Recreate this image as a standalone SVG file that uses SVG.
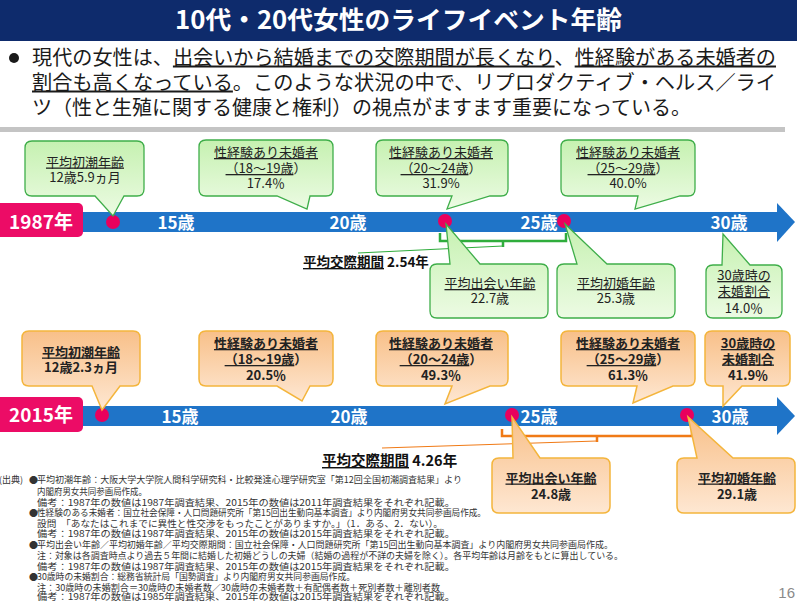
<svg xmlns="http://www.w3.org/2000/svg" width="797" height="602" viewBox="0 0 797 602">
<defs>
<linearGradient id="gg" x1="0" y1="0" x2="0" y2="1"><stop offset="0" stop-color="#c6f1b1"/><stop offset="1" stop-color="#ecfbe3"/></linearGradient>
<linearGradient id="og" x1="0" y1="0" x2="0" y2="1"><stop offset="0" stop-color="#f8c089"/><stop offset="1" stop-color="#fee7d2"/></linearGradient>
<style>
text{font-family:"Noto Sans CJK JP","Noto Sans",sans-serif;}
.gc{fill:url(#gg);stroke:#3fae4a;stroke-width:1.3;}
.oc{fill:url(#og);stroke:#f4b53c;stroke-width:1.5;}
.ct{font-size:13px;fill:#222;text-anchor:middle;}
.b{font-weight:bold;}
.u{text-decoration:underline;}
.bar{fill:#1f74c8;}
.dot{fill:#e9005d;}
.yl{fill:#ec0c66;}
.yt{font-size:19px;font-weight:bold;fill:#fff;text-anchor:middle;}
.age{font-size:17px;font-weight:bold;fill:#fff;text-anchor:middle;}
.fn{font-size:9px;fill:#333;}
.gl{fill:none;stroke:#2fad3c;}
.ol{fill:none;stroke:#f07a16;}
</style>
</defs>
<rect width="797" height="602" fill="#fff"/>

<g id="title">
<rect x="0" y="0" width="797" height="41" fill="#0e2b6c"/>
<text x="175" y="29" font-size="25" font-weight="bold" fill="#fff" textLength="447" lengthAdjust="spacingAndGlyphs">10代・20代女性のライフイベント年齢</text>
</g>

<g id="summary" fill="#1a1a1a">
<circle cx="14" cy="58" r="5" fill="#1a1a1a"/>
<text x="32" y="64.5" font-size="20" textLength="744" lengthAdjust="spacingAndGlyphs">現代の女性は、<tspan class="u">出会いから結婚までの交際期間が長くなり</tspan>、<tspan class="u">性経験がある未婚者の</tspan></text>
<text x="32" y="89.5" font-size="20" textLength="744" lengthAdjust="spacingAndGlyphs"><tspan class="u">割合も高くなっている</tspan>。このような状況の中で、リプロダクティブ・ヘルス／ライ</text>
<text x="32" y="114.5" font-size="20">ツ（性と生殖に関する健康と権利）の視点がますます重要になっている。</text>
<rect x="0" y="127" width="785" height="5" fill="#c4c4c4"/>
</g>

<g id="timeline1987">
<rect class="bar" x="80" y="212" width="698" height="20"/>
<polygon class="bar" points="777,203 795,222 777,242"/>
<rect class="yl" x="-4" y="203" width="87" height="34" rx="5"/>
<text class="yt" x="41" y="229">1987年</text>
<text class="age" x="176" y="228.5">15歳</text>
<text class="age" x="348" y="228.5">20歳</text>
<text class="age" x="539" y="228.5">25歳</text>
<text class="age" x="729" y="228.5">30歳</text>
<circle class="dot" cx="113" cy="222" r="7"/>
<circle class="dot" cx="445" cy="221" r="7"/>
<circle class="dot" cx="564" cy="221" r="7"/>
</g>

<g id="timeline2015">
<rect class="bar" x="80" y="406" width="698" height="20"/>
<polygon class="bar" points="777,397 795,416 777,435"/>
<rect class="yl" x="-4" y="397" width="87" height="35" rx="5"/>
<text class="yt" x="41" y="422">2015年</text>
<text class="age" x="180" y="422.5">15歳</text>
<text class="age" x="349" y="422.5">20歳</text>
<text class="age" x="539" y="422.5">25歳</text>
<text class="age" x="730" y="422.5">30歳</text>
<circle class="dot" cx="102" cy="415" r="7"/>
<circle class="dot" cx="512" cy="415" r="7"/>
<circle class="dot" cx="687" cy="415" r="7"/>
</g>

<g id="connectors">
<path class="gl" stroke-width="2.5" d="M440,233 V241 H566 V233 M503,241 V247"/>
<path class="gl" stroke-width="1" d="M503,246 L358,253"/>
<path class="ol" stroke-width="2.5" d="M502,429 V436 H692 V429 M597,436 V442"/>
<path class="ol" stroke-width="1" d="M597,441 L382,448"/>
</g>

<g id="period1987">
<text x="303" y="267" font-size="13.5" font-weight="bold" fill="#111"><tspan class="u">平均交際期間</tspan> 2.54年</text>
</g>
<g id="period2015">
<text x="322" y="466" font-size="14.5" font-weight="bold" fill="#111"><tspan class="u">平均交際期間</tspan> 4.26年</text>
</g>

<g id="menarche1987">
<path class="gc" d="M32,141 H137 Q144,141 144,148 V189 Q144,196 137,196 H124 L113,216 L95,196 H32 Q25,196 25,189 V148 Q25,141 32,141 Z"/>
<text class="ct" x="85" y="166.5"><tspan class="u">平均初潮年齢</tspan></text>
<text class="ct" x="85" y="182">12歳5.9ヵ月</text>
</g>
<g id="exp18_1987">
<path class="gc" d="M206,140 H326 Q333,140 333,147 V189 Q333,196 326,196 H310 L307,209 L277,196 H206 Q199,196 199,189 V147 Q199,140 206,140 Z"/>
<text class="ct" x="266" y="157"><tspan class="u">性経験あり未婚者</tspan></text>
<text class="ct" x="266" y="173"><tspan class="u">（18〜19歳</tspan>）</text>
<text class="ct" x="266" y="188">17.4％</text>
</g>
<g id="exp20_1987">
<path class="gc" d="M383,140 H501 Q508,140 508,147 V189 Q508,196 501,196 H490 L447,209 L452,196 H383 Q376,196 376,189 V147 Q376,140 383,140 Z"/>
<text class="ct" x="441" y="157"><tspan class="u">性経験あり未婚者</tspan></text>
<text class="ct" x="441" y="173"><tspan class="u">（20〜24歳</tspan>）</text>
<text class="ct" x="441" y="188">31.9%</text>
</g>
<g id="exp25_1987">
<path class="gc" d="M568,140 H688 Q695,140 695,147 V189 Q695,196 688,196 H680 L635,209 L638,196 H568 Q561,196 561,189 V147 Q561,140 568,140 Z"/>
<text class="ct" x="628" y="157"><tspan class="u">性経験あり未婚者</tspan></text>
<text class="ct" x="628" y="173"><tspan class="u">（25〜29歳</tspan>）</text>
<text class="ct" x="628" y="188">40.0%</text>
</g>
<g id="meet1987">
<path class="gc" d="M437,264 H450 L446,224 L480,264 H541 Q548,264 548,271 V311 Q548,318 541,318 H437 Q430,318 430,311 V271 Q430,264 437,264 Z"/>
<text class="ct" x="490" y="288"><tspan class="u">平均出会い年齢</tspan></text>
<text class="ct" x="490" y="303">22.7歳</text>
</g>
<g id="marry1987">
<path class="gc" d="M564,264 H577 L565,224 L607,264 H668 Q675,264 675,271 V311 Q675,318 668,318 H564 Q557,318 557,311 V271 Q557,264 564,264 Z"/>
<text class="ct" x="616" y="288"><tspan class="u">平均初婚年齢</tspan></text>
<text class="ct" x="616" y="303">25.3歳</text>
</g>
<g id="unmarried1987">
<path class="gc" d="M713,265 H722 L723,234 L750,265 H775 Q782,265 782,272 V311 Q782,318 775,318 H713 Q706,318 706,311 V272 Q706,265 713,265 Z"/>
<text class="ct" x="744" y="280"><tspan class="u">30歳時の</tspan></text>
<text class="ct" x="744" y="296"><tspan class="u">未婚割合</tspan></text>
<text class="ct" x="744" y="313">14.0％</text>
</g>

<g id="menarche2015">
<path class="oc" d="M29,331 H133 Q140,331 140,338 V379 Q140,386 133,386 H120 L102,410 L92,386 H29 Q22,386 22,379 V338 Q22,331 29,331 Z"/>
<text class="ct b" x="81" y="356.5"><tspan class="u">平均初潮年齢</tspan></text>
<text class="ct b" x="81" y="371.5">12歳2.3ヵ月</text>
</g>
<g id="exp18_2015">
<path class="oc" d="M206,331 H326 Q333,331 333,338 V379 Q333,386 326,386 H310 L302,401 L277,386 H206 Q199,386 199,379 V338 Q199,331 206,331 Z"/>
<text class="ct b" x="266" y="348"><tspan class="u">性経験あり未婚者</tspan></text>
<text class="ct b" x="266" y="364"><tspan class="u">（18〜19歳</tspan>）</text>
<text class="ct b" x="266" y="380">20.5％</text>
</g>
<g id="exp20_2015">
<path class="oc" d="M383,331 H501 Q508,331 508,338 V379 Q508,386 501,386 H490 L445,404 L452,386 H383 Q376,386 376,379 V338 Q376,331 383,331 Z"/>
<text class="ct b" x="441" y="348"><tspan class="u">性経験あり未婚者</tspan></text>
<text class="ct b" x="441" y="364"><tspan class="u">（20〜24歳</tspan>）</text>
<text class="ct b" x="441" y="380">49.3％</text>
</g>
<g id="exp25_2015">
<path class="oc" d="M568,331 H688 Q695,331 695,338 V379 Q695,386 688,386 H673 L633,403 L637,386 H568 Q561,386 561,379 V338 Q561,331 568,331 Z"/>
<text class="ct b" x="628" y="348"><tspan class="u">性経験あり未婚者</tspan></text>
<text class="ct b" x="628" y="364"><tspan class="u">（25〜29歳</tspan>）</text>
<text class="ct b" x="628" y="380">61.3％</text>
</g>
<g id="unmarried2015">
<path class="oc" d="M712,331 H783 Q790,331 790,338 V379 Q790,386 783,386 H742 L723,406 L723,386 H712 Q705,386 705,379 V338 Q705,331 712,331 Z"/>
<text class="ct b" x="748" y="348"><tspan class="u">30歳時の</tspan></text>
<text class="ct b" x="748" y="363.5"><tspan class="u">未婚割合</tspan></text>
<text class="ct b" x="748" y="380">41.9％</text>
</g>
<g id="meet2015">
<path class="oc" d="M499,458 H513 L512,417 L540,458 H603 Q610,458 610,465 V506 Q610,513 603,513 H499 Q492,513 492,506 V465 Q492,458 499,458 Z"/>
<text class="ct b" x="551" y="482.5"><tspan class="u">平均出会い年齢</tspan></text>
<text class="ct b" x="551" y="498.5">24.8歳</text>
</g>
<g id="marry2015">
<path class="oc" d="M684,458 H697 L688,417 L733,458 H788 Q795,458 795,465 V506 Q795,513 788,513 H684 Q677,513 677,506 V465 Q677,458 684,458 Z"/>
<text class="ct b" x="737" y="482.5"><tspan class="u">平均初婚年齢</tspan></text>
<text class="ct b" x="737" y="498.5">29.1歳</text>
</g>

<g id="notes">
<text class="fn" x="-1" y="483">(出典)</text>
<text class="fn" x="29" y="483">●</text>
<text class="fn" x="37" y="483" textLength="425" lengthAdjust="spacingAndGlyphs">平均初潮年齢：大阪大学大学院人間科学研究科・比較発達心理学研究室「第12回全国初潮調査結果」より</text>
<text class="fn" x="37" y="494.5" textLength="110" lengthAdjust="spacingAndGlyphs">内閣府男女共同参画局作成。</text>
<text class="fn" x="37" y="505.5" textLength="418" lengthAdjust="spacingAndGlyphs">備考：1987年の数値は1987年調査結果、2015年の数値は2011年調査結果をそれぞれ記載。</text>
<text class="fn" x="29" y="516">●</text>
<text class="fn" x="37" y="516" textLength="449" lengthAdjust="spacingAndGlyphs">性経験のある未婚者：国立社会保障・人口問題研究所「第15回出生動向基本調査」より内閣府男女共同参画局作成。</text>
<text class="fn" x="37" y="526.5" textLength="406" lengthAdjust="spacingAndGlyphs">設問　「あなたはこれまでに異性と性交渉をもったことがありますか。」（1．ある、2．ない）。</text>
<text class="fn" x="37" y="537" textLength="418" lengthAdjust="spacingAndGlyphs">備考：1987年の数値は1987年調査結果、2015年の数値は2015年調査結果をそれぞれ記載。</text>
<text class="fn" x="29" y="548">●</text>
<text class="fn" x="37" y="548" textLength="576" lengthAdjust="spacingAndGlyphs">平均出会い年齢／平均初婚年齢／平均交際期間：国立社会保障・人口問題研究所「第15回出生動向基本調査」より内閣府男女共同参画局作成。</text>
<text class="fn" x="37" y="559" textLength="586" lengthAdjust="spacingAndGlyphs">注：対象は各調査時点より過去５年間に結婚した初婚どうしの夫婦（結婚の過程が不詳の夫婦を除く）。各平均年齢は月齢をもとに算出している。</text>
<text class="fn" x="37" y="569.5" textLength="418" lengthAdjust="spacingAndGlyphs">備考：1987年の数値は1987年調査結果、2015年の数値は2015年調査結果をそれぞれ記載。</text>
<text class="fn" x="29" y="580">●</text>
<text class="fn" x="37" y="580" textLength="318" lengthAdjust="spacingAndGlyphs">30歳時の未婚割合：総務省統計局「国勢調査」より内閣府男女共同参画局作成。</text>
<text class="fn" x="37" y="590.5" textLength="403" lengthAdjust="spacingAndGlyphs">注：30歳時の未婚割合＝30歳時の未婚者数／30歳時の未婚者数＋有配偶者数＋死別者数＋離別者数</text>
<text class="fn" x="37" y="600" textLength="418" lengthAdjust="spacingAndGlyphs">備考：1987年の数値は1985年調査結果、2015年の数値は2015年調査結果をそれぞれ記載。</text>
</g>

<g id="page">
<text x="795" y="598" font-size="15" fill="#8a8a8a" text-anchor="end" style="font-family:'Liberation Sans',sans-serif">16</text>
</g>
</svg>
